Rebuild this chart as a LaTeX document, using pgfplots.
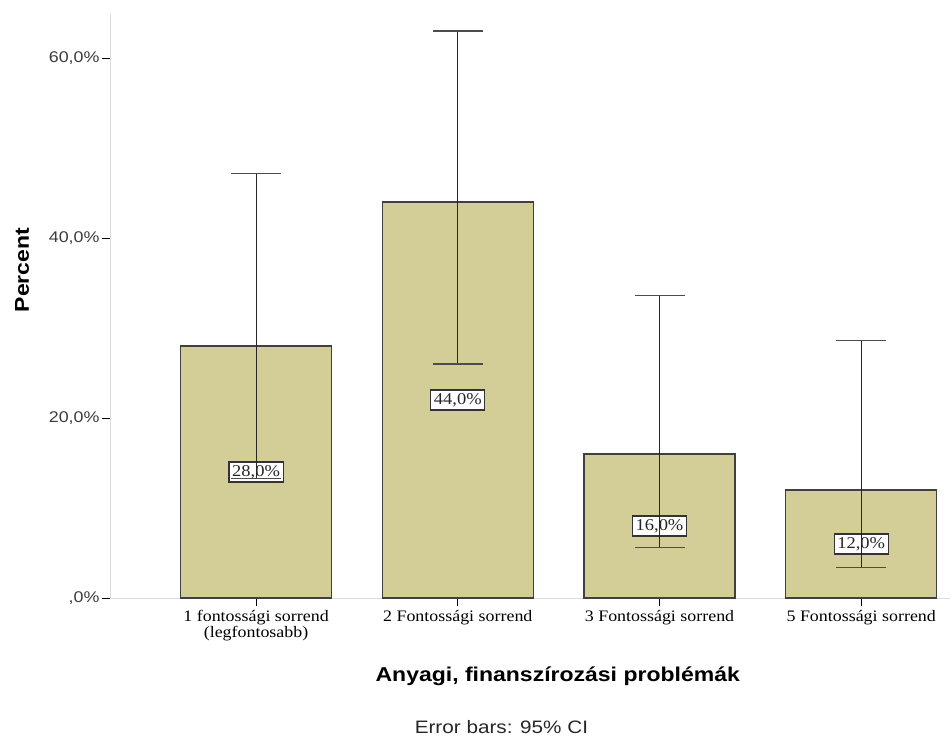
\documentclass[border=0pt]{standalone}
\usepackage{fontspec}
\setmainfont{Liberation Sans}[FakeStretch=1.15]
\newfontfamily\serifcat{Liberation Serif}[FakeStretch=1.12]
\usepackage{pgfplots}
\pgfplotsset{compat=1.18}
\definecolor{barfill}{RGB}{211,206,151}
\definecolor{axgray}{RGB}{220,220,220}
\definecolor{ticktext}{RGB}{60,60,60}
\pgfplotsset{base/.style={
  at={(0,0)}, anchor=south west,
  scale only axis, width=840pt, height=584pt,
  xmin=-0.724, xmax=3.44, ymin=0, ymax=64.9, clip=false}}
\begin{document}
\begin{tikzpicture}[x=1pt,y=1pt]
\useasboundingbox (-110pt,-139pt) rectangle (842pt,598pt);
\begin{axis}[
  base,
  axis x line*=bottom, axis y line*=left,
  axis line style={draw=axgray, line width=0.8pt},
  x axis line style={-}, y axis line style={-},
  xtick={0,1,2,3},
  xticklabels={{1 fontossági sorrend\\(legfontosabb)},{2 Fontossági sorrend},{3 Fontossági sorrend},{5 Fontossági sorrend}},
  xticklabel style={font=\serifcat\fontsize{16}{16}\selectfont, align=center, text=black, yshift=-1pt},
  ytick={0,20,40,60},
  yticklabels={{,0\%},{20,0\%},{40,0\%},{60,0\%}},
  yticklabel style={font=\fontsize{15.5}{16}\selectfont, text=ticktext, xshift=1pt},
  tick align=outside, major tick length=8pt,
  tick style={draw=black, line width=0.7pt},
]
\addplot[ybar, bar width=151pt, fill=barfill, draw=black!75, line width=1.3pt]
  coordinates {(0,28) (1,44) (2,16) (3,12)};
\addplot[draw=none, mark=none, nodes near coords, point meta=explicit symbolic,
  every node near coord/.style={font=\serifcat\fontsize{16.5}{17}\selectfont, fill=white, draw=black!80, line width=1.2pt, inner sep=3.2pt, anchor=center, text=black!85}]
  coordinates {(0,14)[28,0\%] (1,22)[44,0\%] (2,8)[16,0\%] (3,6)[12,0\%]};
\node[rotate=90, font=\bfseries\fontsize{20}{20}\selectfont] at (rel axis cs:-0.1048,0.5616) {Percent};
\node[font=\bfseries\fontsize{20}{20}\selectfont] at (rel axis cs:0.533,-0.1336) {Anyagi, finanszírozási problémák};
\node[font=\fontsize{18}{18}\selectfont, text=black!85] at (rel axis cs:0.466,-0.2205) {Error bars: 95\% CI};
\end{axis}
\begin{axis}[base, hide axis]
\addplot[draw=none, mark=none,
  error bars/.cd, y dir=both, y explicit,
  error bar style={draw=black!85, line width=1pt},
  error mark options={rotate=90, mark size=25pt, line width=1.2pt, draw=black!70}]
  coordinates {
    (0,28) += (0,19.2) -= (0,14.7)
    (1,44) += (0,19.0) -= (0,18.0)
    (2,16) += (0,17.6) -= (0,10.4)
    (3,12) += (0,16.6) -= (0,8.6)
  };
\end{axis}
\end{tikzpicture}
\end{document}
